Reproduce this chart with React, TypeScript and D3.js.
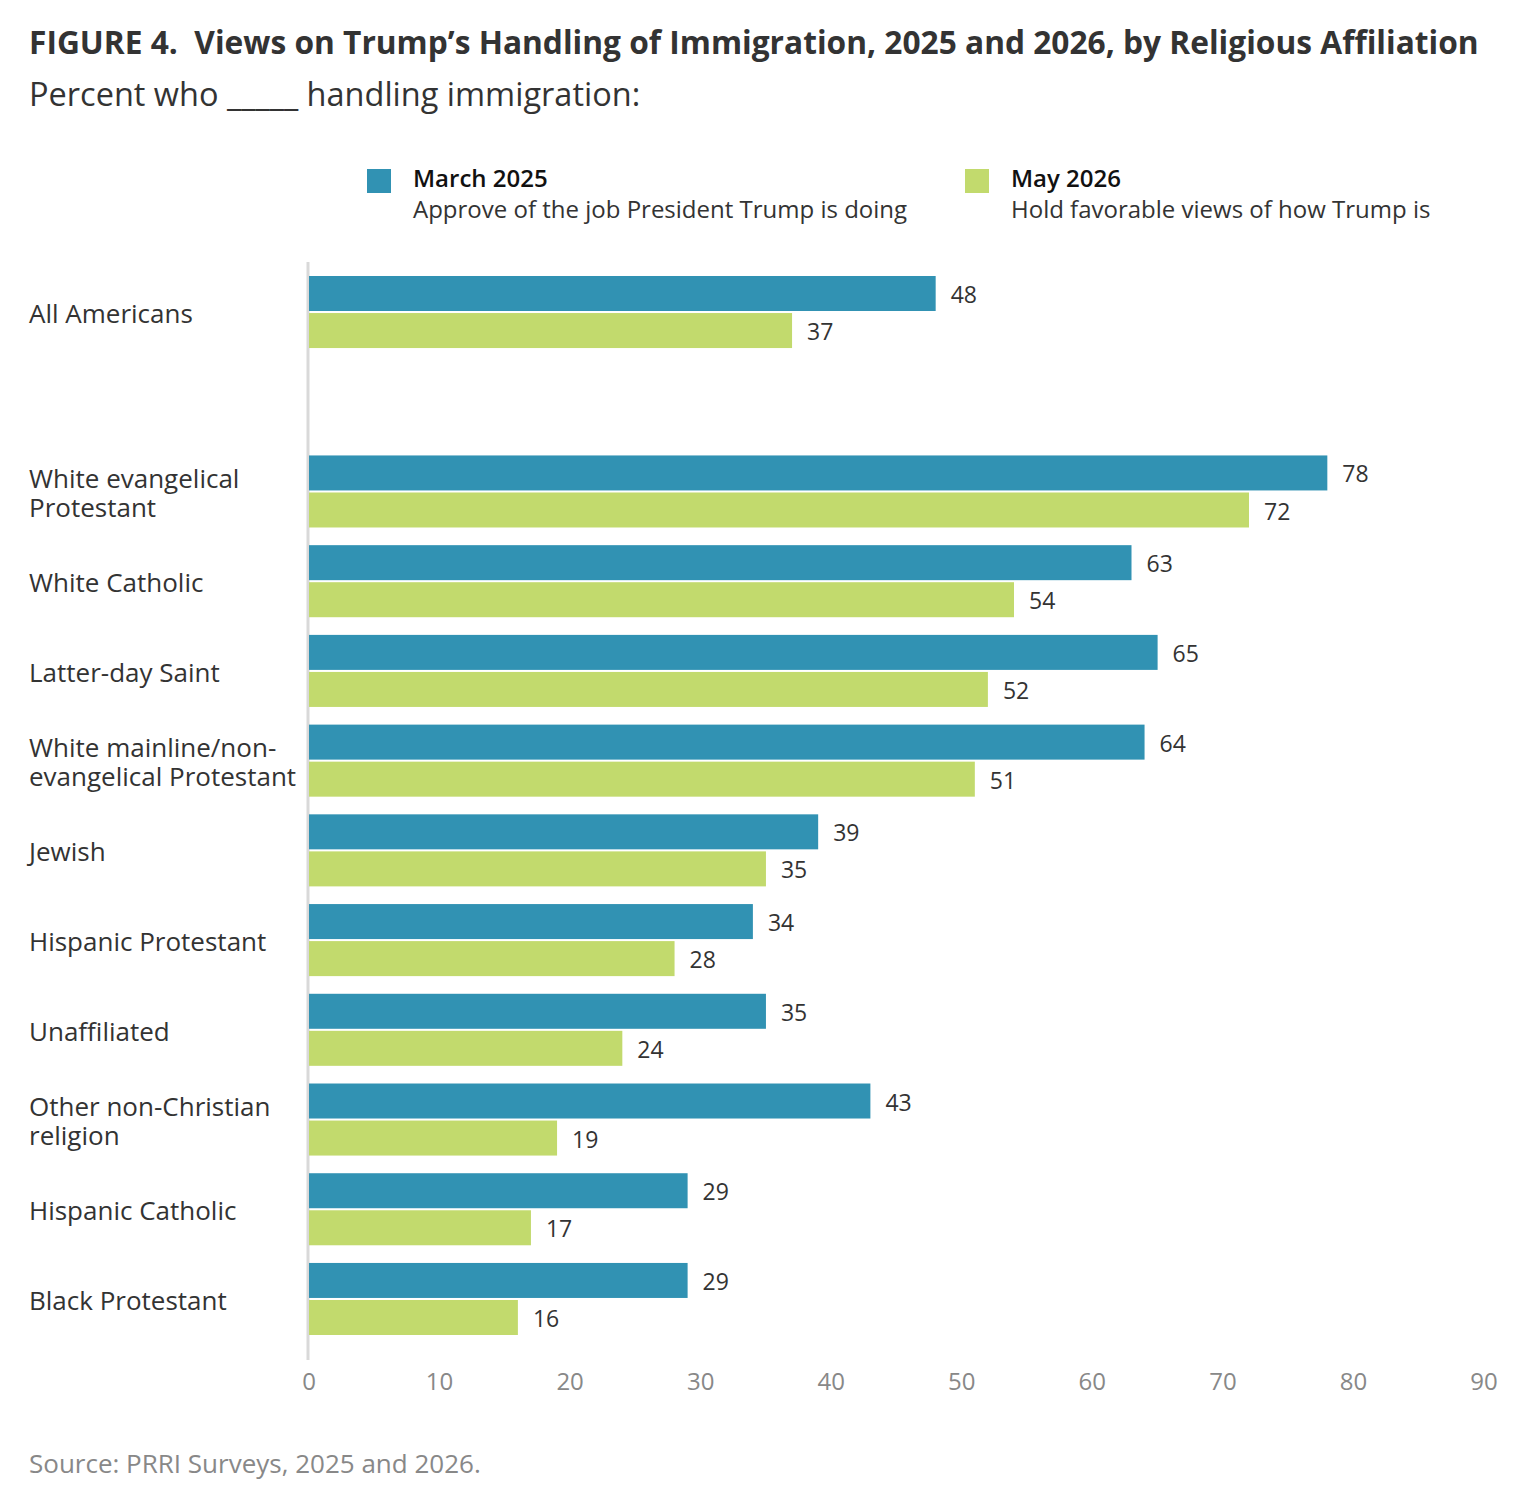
import React, { useEffect, useRef } from 'react';
import * as d3 from 'd3';

const categories = [
  'All Americans',
  '',
  'White evangelical\nProtestant',
  'White Catholic',
  'Latter-day Saint',
  'White mainline/non-\nevangelical Protestant',
  'Jewish',
  'Hispanic Protestant',
  'Unaffiliated',
  'Other non-Christian\nreligion',
  'Hispanic Catholic',
  'Black Protestant',
];
const march2025 = [48, null, 78, 63, 65, 64, 39, 34, 35, 43, 29, 29];
const may2026 = [37, null, 72, 54, 52, 51, 35, 28, 24, 19, 17, 16];
const seriesKeys = ['march2025', 'may2026'];
const xTicks = [0, 10, 20, 30, 40, 50, 60, 70, 80, 90];

const W = 1536;
const H = 1502;
const BLUE = '#3192b3';
const GREEN = '#c2da6d';
const FONT = '"Open Sans", "Noto Sans", sans-serif';

export default function App() {
  const svgRef = useRef<SVGSVGElement>(null);

  useEffect(() => {
    if (!svgRef.current) return;
    const svg = d3.select(svgRef.current);
    svg.selectAll('*').remove();

    const x = d3.scaleLinear().domain([0, 90]).range([309, 1484]);
    const y = d3.scaleBand<number>()
      .domain(d3.range(categories.length))
      .range([276, 1335])
      .paddingInner(0.197)
      .paddingOuter(0);
    const sub = d3.scaleBand<string>()
      .domain(seriesKeys)
      .range([0, y.bandwidth()])
      .paddingInner(0.055);

    // Title
    svg.append('text').attr('x', 29).attr('y', 54)
      .attr('font-family', FONT).attr('font-weight', 700).attr('font-size', 31.7)
      .attr('fill', '#333')
      .text('FIGURE 4.\u00a0 Views on Trump\u2019s Handling of Immigration, 2025 and 2026, by Religious Affiliation');
    svg.append('text').attr('x', 29).attr('y', 106)
      .attr('font-family', FONT).attr('font-size', 32.5)
      .attr('fill', '#333')
      .text('Percent who _____ handling immigration:');

    // Legend
    const legend = [
      { x: 367, color: BLUE, title: 'March 2025', desc: 'Approve of the job President Trump is doing' },
      { x: 965, color: GREEN, title: 'May 2026', desc: 'Hold favorable views of how Trump is' },
    ];
    legend.forEach(l => {
      svg.append('rect').attr('x', l.x).attr('y', 169).attr('width', 24).attr('height', 24)
        .attr('fill', l.color);
      svg.append('text').attr('x', l.x + 46).attr('y', 187)
        .attr('font-family', FONT).attr('font-weight', 600).attr('font-size', 24)
        .attr('fill', '#111').text(l.title);
      svg.append('text').attr('x', l.x + 46).attr('y', 218)
        .attr('font-family', FONT).attr('font-size', 24)
        .attr('fill', '#333').text(l.desc);
    });

    // Axis line
    svg.append('line').attr('x1', x(0) - 1).attr('x2', x(0) - 1)
      .attr('y1', 262).attr('y2', 1360)
      .attr('stroke', '#d9d9d9').attr('stroke-width', 3);

    // Tick labels
    svg.append('g').selectAll('text').data(xTicks).join('text')
      .attr('x', d => x(d)).attr('y', 1390)
      .attr('text-anchor', 'middle')
      .attr('font-family', FONT).attr('font-size', 24)
      .attr('fill', '#888').text(d => d);

    // Bars
    const g = svg.append('g');
    categories.forEach((cat, i) => {
      const y0 = y(i)!;
      const vals: [string, number | null, string][] = [
        ['march2025', march2025[i], BLUE],
        ['may2026', may2026[i], GREEN],
      ];
      vals.forEach(([k, v, c]) => {
        if (v == null) return;
        const by = y0 + sub(k)!;
        g.append('rect').attr('x', x(0)).attr('y', by)
          .attr('width', x(v) - x(0)).attr('height', sub.bandwidth())
          .attr('fill', c);
        g.append('text').attr('x', x(v) + 15).attr('y', by + sub.bandwidth() / 2 + 1.5)
          .attr('dy', '0.35em')
          .attr('font-family', FONT).attr('font-size', 23)
          .attr('fill', '#333').text(v);
      });

      if (!cat) return;
      const lines = cat.split('\n');
      const cy = y0 + y.bandwidth() / 2 + 2;
      const lh = 28.5;
      const t = svg.append('text')
        .attr('font-family', FONT).attr('font-size', 26)
        .attr('fill', '#333');
      lines.forEach((ln, j) => {
        t.append('tspan').attr('x', 29)
          .attr('y', cy + (j - (lines.length - 1) / 2) * lh)
          .attr('dy', '0.35em').text(ln);
      });
    });

    // Source
    svg.append('text').attr('x', 29).attr('y', 1473)
      .attr('font-family', FONT).attr('font-size', 26)
      .attr('fill', '#888').text('Source: PRRI Surveys, 2025 and 2026.');
  }, []);

  return (
    <svg
      ref={svgRef}
      width={W}
      height={H}
      style={{ display: 'block', background: '#fff', margin: '-8px' }}
    />
  );
}
